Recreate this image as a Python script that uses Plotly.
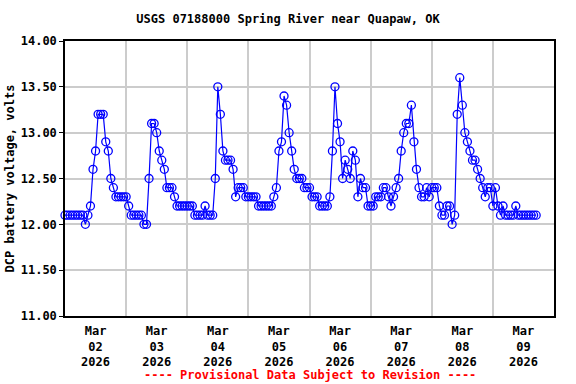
import pandas as pd
import plotly.graph_objects as go

start_time = "2026-03-02 00:00"
voltage = [
    # Mar 02
    12.1, 12.1, 12.1, 12.1, 12.1, 12.1, 12.1, 12.1, 12.0, 12.1, 12.2, 12.6,
    12.8, 13.2, 13.2, 13.2, 12.9, 12.8, 12.5, 12.4, 12.3, 12.3, 12.3, 12.3,
    # Mar 03
    12.3, 12.2, 12.1, 12.1, 12.1, 12.1, 12.1, 12.0, 12.0, 12.5, 13.1, 13.1,
    13.0, 12.8, 12.7, 12.6, 12.4, 12.4, 12.4, 12.3, 12.2, 12.2, 12.2, 12.2,
    # Mar 04
    12.2, 12.2, 12.2, 12.1, 12.1, 12.1, 12.1, 12.2, 12.1, 12.1, 12.1, 12.5,
    13.5, 13.2, 12.8, 12.7, 12.7, 12.7, 12.6, 12.3, 12.4, 12.4, 12.4, 12.3,
    # Mar 05
    12.3, 12.3, 12.3, 12.3, 12.2, 12.2, 12.2, 12.2, 12.2, 12.2, 12.3, 12.4,
    12.8, 12.9, 13.4, 13.3, 13.0, 12.8, 12.6, 12.5, 12.5, 12.5, 12.4, 12.4,
    # Mar 06
    12.4, 12.3, 12.3, 12.3, 12.2, 12.2, 12.2, 12.2, 12.3, 12.8, 13.5, 13.1,
    12.9, 12.5, 12.7, 12.6, 12.5, 12.8, 12.7, 12.3, 12.5, 12.4, 12.4, 12.2,
    # Mar 07
    12.2, 12.2, 12.3, 12.3, 12.3, 12.4, 12.4, 12.3, 12.2, 12.3, 12.4, 12.5,
    12.8, 13.0, 13.1, 13.1, 13.3, 12.9, 12.6, 12.4, 12.3, 12.3, 12.4, 12.3,
    # Mar 08
    12.4, 12.4, 12.4, 12.2, 12.1, 12.1, 12.2, 12.2, 12.0, 12.1, 13.2, 13.6,
    13.3, 13.0, 12.9, 12.8, 12.7, 12.7, 12.6, 12.5, 12.4, 12.3, 12.4, 12.4,
    # Mar 09
    12.2, 12.4, 12.2, 12.1, 12.2, 12.1, 12.1, 12.1, 12.1, 12.2, 12.1, 12.1,
    12.1, 12.1, 12.1, 12.1, 12.1, 12.1,
]
tick_dates = ["2026-03-02 12:00", "2026-03-03 12:00", "2026-03-04 12:00",
              "2026-03-05 12:00", "2026-03-06 12:00", "2026-03-07 12:00",
              "2026-03-08 12:00", "2026-03-09 12:00"]
tick_labels = ["Mar<br>02<br>2026", "Mar<br>03<br>2026", "Mar<br>04<br>2026",
               "Mar<br>05<br>2026", "Mar<br>06<br>2026", "Mar<br>07<br>2026",
               "Mar<br>08<br>2026", "Mar<br>09<br>2026"]
y_ticks = [11.0, 11.5, 12.0, 12.5, 13.0, 13.5, 14.0]

times = pd.date_range(start_time, periods=len(voltage), freq="h")

FONT = "DejaVu Sans Mono"
fig = go.Figure()
fig.add_trace(go.Scatter(
    x=times, y=voltage, mode="lines+markers",
    line=dict(color="#0000ff", width=1.2),
    marker=dict(symbol="circle-open", size=8, color="#0000ff",
                line=dict(width=1.3, color="#0000ff")),
    cliponaxis=False, showlegend=False,
))

fig.update_layout(
    width=576, height=384,
    margin=dict(l=65, r=22, t=41, b=68, autoexpand=False),
    paper_bgcolor="white", plot_bgcolor="white",
    font=dict(family=FONT, size=12, color="black", weight="bold"),
    title=dict(text="USGS 07188000 Spring River near Quapaw, OK",
               x=0.5, xref="container", y=0.95, yref="container",
               xanchor="center", yanchor="middle",
               font=dict(family=FONT, size=12, color="black", weight="bold")),
    xaxis=dict(
        range=["2026-03-02 00:00", "2026-03-10 00:00"], automargin=False,
        tickmode="array", tickvals=tick_dates, ticktext=tick_labels,
        showgrid=False, ticks="", zeroline=False, ticklabelstandoff=3,
        showline=True, linecolor="black", linewidth=1.5, mirror=True,
        tickfont=dict(family=FONT, size=12, color="black", weight="bold"),
        minor=dict(tickmode="linear", tick0="2026-03-02", dtick=86400000,
                   showgrid=True, gridcolor="#cccccc", gridwidth=1.5, ticks=""),
    ),
    yaxis=dict(
        range=[11.0, 14.0], automargin=False, tickmode="array", tickvals=y_ticks,
        tickformat=".2f", showgrid=True, gridcolor="#cccccc", gridwidth=1.5,
        zeroline=False, ticks="outside", ticklen=4, tickcolor="black",
        showline=True, linecolor="black", linewidth=1.5, mirror=True,
        tickfont=dict(family=FONT, size=12, color="black", weight="bold"),
        title=dict(text="DCP battery voltage, volts", standoff=4,
                   font=dict(family=FONT, size=12, color="black", weight="bold")),
    ),
)
fig.add_annotation(
    text="---- Provisional Data Subject to Revision ----",
    xref="paper", yref="paper", x=0.5, y=-0.215, xanchor="center", yanchor="middle",
    showarrow=False,
    font=dict(family=FONT, size=12, color="#ff0000", weight="bold"),
)
fig.write_html("out.html", config={"displayModeBar": False},
               post_script="document.body.style.margin='0';")
